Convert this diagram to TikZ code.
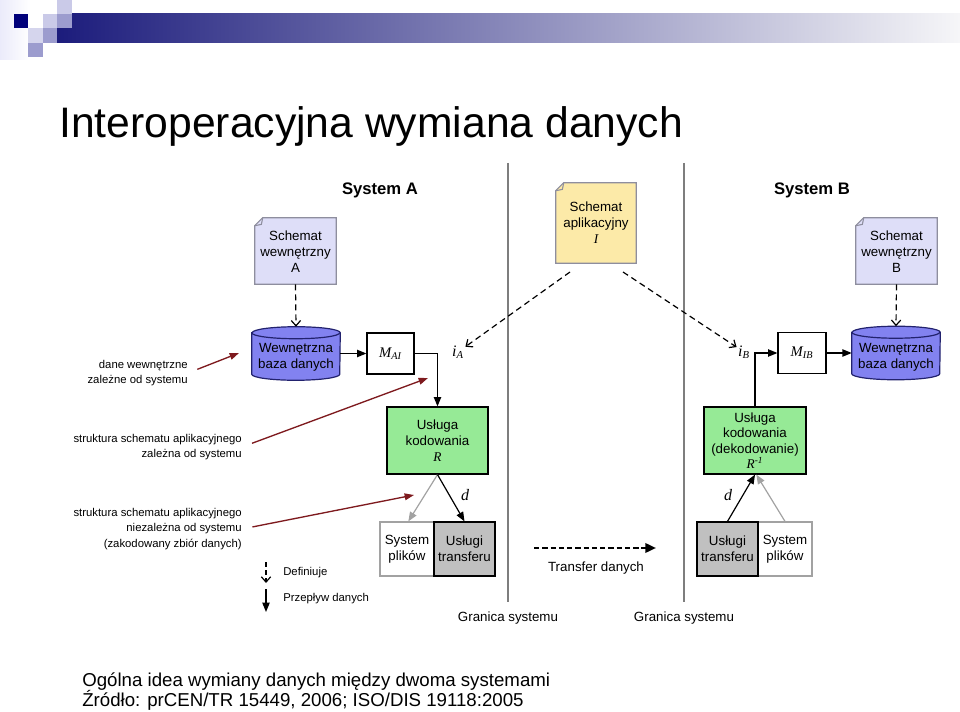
\documentclass[tikz,border=0pt]{standalone}
\usepackage{fontspec}
\setmainfont{Liberation Sans}
\newfontfamily\tms{Liberation Serif}
\usetikzlibrary{arrows.meta}
\definecolor{navyc}{HTML}{1C1C7C}
\definecolor{navysq}{HTML}{00007A}
\definecolor{midbar}{HTML}{A8A8C0}
\definecolor{barend}{HTML}{F6F6F8}
\definecolor{sqlight}{HTML}{CACAE8}
\definecolor{sqmid}{HTML}{9C9CCE}
\definecolor{notelav}{HTML}{DEDEF8}
\definecolor{noteyel}{HTML}{FCEAA8}
\definecolor{noteborder}{HTML}{8E8E9E}
\definecolor{dbfill}{HTML}{8282F0}
\definecolor{dbborder}{HTML}{22226E}
\definecolor{greenbox}{HTML}{96EA96}
\definecolor{graybox}{HTML}{C0C0C0}
\definecolor{grayline}{HTML}{A2A2A2}
\definecolor{bound}{HTML}{7E7E7E}
\definecolor{maroonc}{HTML}{7E1A1E}
\tikzset{
  boxtxt/.style={font=\fontsize{10}{12}\selectfont},
  box/.style={boxtxt, draw, line width=0.9pt, align=center, inner sep=0pt},
  notenode/.style={boxtxt, align=center, inner sep=0pt},
  notestyle/.style={draw=noteborder, line width=0.8pt},
  dbnode/.style={boxtxt, align=center, inner sep=0pt, minimum width=66pt, minimum height=39.75pt},
  dbstyle/.style={draw=dbborder, fill=dbfill, line width=0.9pt},
  flow/.style={line width=0.9pt, -{Triangle[length=7pt,width=5.5pt]}},
  grayflow/.style={draw=grayline, line width=0.9pt, -{Triangle[length=7pt,width=5.5pt]}},
  dashdef/.style={line width=0.9pt, dash pattern=on 4.5pt off 3pt, -{Straight Barb[length=4pt,width=7pt]}},
  redarr/.style={draw=maroonc, line width=1pt, -{Triangle[length=7pt,width=5pt]}},
  boundline/.style={draw=bound, line width=0.9pt},
  transfer/.style={line width=1.8pt, dash pattern=on 4pt off 2.2pt, -{Triangle[length=8pt,width=7pt]}},
  anno/.style={align=right, anchor=east, inner sep=0pt, font=\fontsize{8.5}{11.5}\selectfont},
  legtxt/.style={anchor=west, inner sep=0pt, font=\fontsize{8.5}{10}\selectfont},
  mathlbl/.style={inner sep=1pt, font=\tms\itshape\fontsize{12}{14}\selectfont},
}
\newcommand\notefolded[2]{%
  \filldraw[notestyle, fill=#2] ([xshift=6pt]#1.north west) -- (#1.north east) -- (#1.south east) -- (#1.south west) -- ([yshift=-6pt]#1.north west) -- cycle;
  \draw[notestyle] ([yshift=-6pt]#1.north west) -- ([xshift=5pt,yshift=-5pt]#1.north west) -- ([xshift=6pt]#1.north west);}
\newcommand\dbdraw[1]{%
  \filldraw[dbstyle] ([yshift=-4.5pt]#1.north west) -- ([yshift=4.5pt]#1.south west)
    arc[start angle=180, end angle=360, x radius=33pt, y radius=4.5pt]
    -- ([yshift=-4.5pt]#1.north east)
    arc[start angle=0, end angle=180, x radius=33pt, y radius=4.5pt] -- cycle;
  \draw[dbstyle, fill=none] ([yshift=-4.5pt]#1.north west) arc[start angle=180, end angle=360, x radius=33pt, y radius=4.5pt];}
\begin{document}
\begin{tikzpicture}[x=0.75pt, y=-0.75pt]
\useasboundingbox (0,0) rectangle (960,712);
% header decoration
\shade[left color=notelav!60, right color=white] (0,0) rectangle (30,60);
\shade[left color=navyc, middle color=midbar, right color=barend] (57,14) rectangle (960,43);
\fill[navysq] (14,14) rectangle (28,28);
\fill[sqlight] (57,0) rectangle (72,14);
\fill[sqlight] (43,14) rectangle (57,28);
\fill[sqmid] (57,14) rectangle (72,28);
\fill[sqlight!80] (28,28) rectangle (43,43);
\fill[sqmid] (43,28) rectangle (57,43);
\fill[sqmid] (28,43) rectangle (43,57);
% title
\node[anchor=base west, inner sep=0pt, font=\fontsize{32}{38}\selectfont] (title) at (59,138) {Interoperacyjna wymiana danych};
% system boundaries
\coordinate (b1t) at (508,163); \coordinate (b1b) at (508,602);
\coordinate (b2t) at (684,163); \coordinate (b2b) at (684,602);
\draw[boundline] (b1t) -- (b1b);
\draw[boundline] (b2t) -- (b2b);
\node[boxtxt] (g1) at (508,618) {Granica systemu};
\node[boxtxt] (g2) at (684,618) {Granica systemu};
\node[font=\bfseries\fontsize{12.5}{14}\selectfont] (sysA) at (380,190) {System A};
\node[font=\bfseries\fontsize{12.5}{14}\selectfont] (sysB) at (812,190) {System B};
% notes
\node[notenode, minimum width=60.75pt, minimum height=49.5pt] (nA) at (295.5,251) {};
\notefolded{nA}{notelav}
\node[notenode] (nAt) at (295.5,251.5) {Schemat\\wewnętrzny\\A};
\node[notenode, minimum width=60pt, minimum height=60pt] (nI) at (596,223) {};
\notefolded{nI}{noteyel}
\node[notenode] (nIt) at (596,222.5) {Schemat\\aplikacyjny\\{\tms\itshape I}};
\node[notenode, minimum width=60.75pt, minimum height=49.5pt] (nB) at (896.5,251) {};
\notefolded{nB}{notelav}
\node[notenode] (nBt) at (896.5,251.5) {Schemat\\wewnętrzny\\B};
% databases
\node[dbnode] (dbA) at (296,353.5) {};
\dbdraw{dbA}
\node[notenode] (dbAt) at (296,357.5) {Wewnętrzna\\baza danych};
\node[dbnode] (dbB) at (896,353) {};
\dbdraw{dbB}
\node[notenode] (dbBt) at (896,357) {Wewnętrzna\\baza danych};
% mapping boxes
\node[box, minimum width=35.25pt, minimum height=30.75pt, font=\tms\itshape\fontsize{11}{13}\selectfont] (mA) at (390.5,353.5) {M\textsubscript{AI}};
\node[box, minimum width=36pt, minimum height=30.75pt, font=\tms\itshape\fontsize{11}{13}\selectfont] (mB) at (802,353) {M\textsubscript{IB}};
\node[mathlbl] (iAl) at (458,352) {i\textsubscript{A}};
\node[mathlbl] (iBl) at (744,352) {i\textsubscript{B}};
% coding services
\node[box, fill=greenbox, minimum width=75.75pt, minimum height=50.25pt] (rA) at (437.5,440.5) {Usługa\\kodowania\\{\tms\itshape R}};
\node[box, fill=greenbox, minimum width=76.5pt, minimum height=50.25pt, font=\fontsize{10}{11.6}\selectfont] (rB) at (755,440.5) {Usługa\\kodowania\\(dekodowanie)\\{\tms\itshape R\textsuperscript{-1}}};
% file systems and transfer services
\node[box, draw=grayline, fill=white, minimum width=40.5pt, minimum height=40.5pt] (spA) at (407,549) {System\\plików};
\node[box, fill=graybox, minimum width=45.75pt, minimum height=40.5pt] (uA) at (464.5,549) {Usługi\\transferu};
\node[box, draw=grayline, fill=white, minimum width=40.5pt, minimum height=40.5pt] (spB) at (785,549) {System\\plików};
\node[box, fill=graybox, minimum width=45.75pt, minimum height=40.5pt] (uB) at (727.5,549) {Usługi\\transferu};
% connectors system A
\draw[dashdef] (nA.south) -- (dbA.north);
\draw[flow] (dbA.east |- mA.west) -- (mA.west);
\draw[flow] (mA.east) -| (rA.north);
\coordinate (dI1) at (570,272);
\coordinate (dI2) at (623,272);
\draw[dashdef] (dI1) -- (iAl);
\draw[dashdef] (dI2) -- (iBl);
\draw[grayflow] (rA.south) -- ([xshift=1pt]spA.north);
\draw[flow] (rA.south) -- (uA.north);
\node[mathlbl] (dA) at (465,495) {d};
% connectors system B
\draw[dashdef] (nB.south) -- (dbB.north);
\draw[flow] (rB.north) |- (mB.west);
\draw[flow] (mB.east) -- (dbB.west |- mB.east);
\draw[flow] (uB.north) -- (rB.south);
\draw[grayflow] (spB.north) -- ([xshift=1pt]rB.south);
\node[mathlbl] (dB) at (728,495) {d};
% transfer
\coordinate (tr1) at (534,548);
\coordinate (tr2) at (656,548);
\draw[transfer] (tr1) -- (tr2);
\node[boxtxt] (trl) at (596,568) {Transfer danych};
% annotations
\node[anno] (an1) at (188,373) {dane wewnętrzne\\zależne od systemu};
\node[anno] (an2) at (242,447) {struktura schematu aplikacyjnego\\zależna od systemu};
\node[anno] (an3) at (242,529) {struktura schematu aplikacyjnego\\niezależna od systemu\\(zakodowany zbiór danych)};
\coordinate (r1) at (239,353);
\coordinate (r2) at (428,378);
\coordinate (r3) at (414,495);
\draw[redarr, shorten <=7.5pt] (an1.east) -- (r1);
\draw[redarr, shorten <=8pt] (an2.east) -- (r2);
\draw[redarr, shorten <=8pt] (an3.east) -- (r3);
% legend
\coordinate (l1a) at (266,562); \coordinate (l1b) at (266,583);
\coordinate (l2a) at (266,589); \coordinate (l2b) at (266,612);
\draw[dashdef, dash pattern=on 3.5pt off 2.5pt] (l1a) -- (l1b);
\draw[flow] (l2a) -- (l2b);
\node[legtxt] (lg1) at (283,573) {Definiuje};
\node[legtxt] (lg2) at (283,599) {Przepływ danych};
% caption
\node[anchor=base west, inner sep=0pt, font=\fontsize{14}{16}\selectfont] (cap1) at (82,686) {Ogólna idea wymiany danych między dwoma systemami};
\node[anchor=base west, inner sep=0pt, font=\fontsize{14}{16}\selectfont] (cap2) at (82,706) {Źródło: prCEN/TR 15449, 2006; ISO/DIS 19118:2005};
\end{tikzpicture}
\end{document}
